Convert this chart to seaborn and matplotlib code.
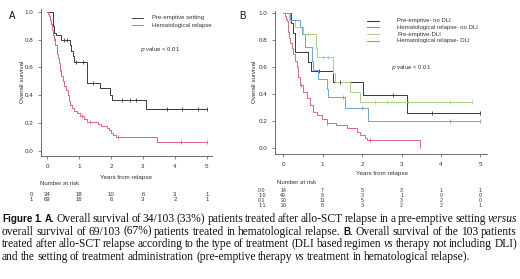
import numpy as np
import pandas as pd
import seaborn as sns
import matplotlib
matplotlib.use("Agg")
from matplotlib import pyplot as plt
import matplotlib.transforms as mtrans

# === Data: panel A (Kaplan-Meier step points, censor marks) ===
a_pre_t = [0, 0.20, 0.23, 0.27, 0.45, 0.72, 0.76, 0.80, 0.84, 1.26, 1.66, 1.97, 2.02, 3.09]
a_pre_s = [1.0, 0.90, 0.85, 0.83, 0.80, 0.76, 0.72, 0.68, 0.64, 0.49, 0.45, 0.40, 0.365, 0.305]
a_pre_cens = [0.52, 0.62, 0.92, 1.12, 1.45, 2.33, 2.59, 2.78, 3.74, 4.21, 4.73, 4.99]
a_pre_end = 5.0

a_hem_t = [0, 0.04, 0.07, 0.09, 0.125, 0.16, 0.20, 0.23, 0.26, 0.30, 0.33, 0.36, 0.40, 0.45, 0.49,
           0.53, 0.58, 0.64, 0.68, 0.73, 0.78, 0.84, 0.93, 1.03, 1.14, 1.24, 1.60, 1.70, 1.86, 1.95,
           2.00, 2.07, 2.16, 3.43]
a_hem_s = [1.0, 0.985, 0.97, 0.94, 0.91, 0.87, 0.83, 0.80, 0.76, 0.70, 0.67, 0.63, 0.58, 0.54, 0.50,
           0.47, 0.44, 0.40, 0.36, 0.33, 0.31, 0.29, 0.27, 0.25, 0.23, 0.21, 0.195, 0.18, 0.165, 0.15,
           0.13, 0.115, 0.10, 0.063]
a_hem_cens = [0.25, 0.40, 1.10, 1.35, 2.23, 4.20, 5.0]
a_hem_end = 5.0

# === Data: panel B ===
b_pre_nodli_t = [0, 0.20, 0.25, 0.30, 0.62, 0.70, 1.27, 2.02, 3.13]
b_pre_nodli_s = [1.0, 0.929, 0.857, 0.714, 0.643, 0.571, 0.49, 0.395, 0.264]
b_pre_nodli_cens = [0.90, 1.44, 2.79, 3.77, 5.0]
b_pre_nodli_end = 5.0

b_hem_nodli_t = [0, 0.04, 0.07, 0.085, 0.11, 0.13, 0.15, 0.17, 0.21, 0.25, 0.30, 0.34, 0.38, 0.42,
                 0.51, 0.59, 0.68, 0.76, 0.85, 0.97, 1.10, 1.35, 1.61, 1.86, 1.95, 2.07, 2.12, 3.47]
b_hem_nodli_s = [1.0, 0.98, 0.96, 0.94, 0.90, 0.86, 0.82, 0.78, 0.74, 0.70, 0.65, 0.60, 0.53, 0.47,
                 0.42, 0.37, 0.32, 0.27, 0.25, 0.22, 0.185, 0.17, 0.15, 0.12, 0.10, 0.075, 0.061, 0.0]
b_hem_nodli_cens = [0.45, 1.12, 2.20]
b_hem_nodli_end = 3.47

b_pre_dli_t = [0, 0.15, 0.30, 0.50, 0.82, 0.84, 0.86, 1.27, 1.30, 1.69, 1.95]
b_pre_dli_s = [1.0, 0.95, 0.90, 0.85, 0.80, 0.74, 0.68, 0.56, 0.49, 0.42, 0.345]
b_pre_dli_cens = [0.63, 1.02, 1.14, 2.33, 2.62, 3.17, 4.23, 4.78]
b_pre_dli_end = 4.78

b_hem_dli_t = [0, 0.17, 0.42, 0.47, 0.55, 0.72, 0.76, 0.89, 1.10, 1.14, 1.57, 2.16]
b_hem_dli_s = [1.0, 0.95, 0.90, 0.85, 0.75, 0.65, 0.58, 0.51, 0.44, 0.38, 0.30, 0.205]
b_hem_dli_cens = [1.52, 1.99, 4.23, 5.0]
b_hem_dli_end = 5.0

# === Number at risk tables ===
risk_years = [0, 1, 2, 3, 4, 5]
a_risk_labels = ["0", "1"]
a_risk = [[34, 18, 10, 6, 3, 1], [69, 16, 6, 3, 2, 1]]
b_risk_labels = ["0:0", "1:0", "0:1", "1:1"]
b_risk = [[14, 7, 5, 3, 1, 1], [49, 8, 3, 1, 0, 0], [20, 11, 5, 3, 2, 0], [20, 8, 3, 2, 2, 1]]

a_legend = ["Pre-emptive setting", "Hematological relapse"]
b_legend = ["Pre-emptive- no DLI", "Hematological relapse- no DLI", "Pre-emptive-DLI", "Hematological relapse- DLI"]

BLACK = "#3a3a3a"
RED = "#e0687e"
GREEN = "#a8d38a"
BLUE = "#6fa3d8"
TXT = "#333333"

sns.set_style("ticks")
plt.rcParams["font.family"] = ["Liberation Sans", "DejaVu Sans"]

W, H = 520, 279
fig = plt.figure(figsize=(W / 100, H / 100), dpi=100)


def fx(px):
    return px / W


def fy(py):
    return 1 - py / H


def surv_at(t, s, c):
    i = np.searchsorted(t, c, side="right") - 1
    return s[i]


def km(ax, t, s, cens, end, color):
    tt = list(t) + [end]
    ss = list(s) + [s[-1]]
    sns.lineplot(x=tt, y=ss, ax=ax, color=color, lw=0.7, drawstyle="steps-post",
                 estimator=None, sort=False)
    cy = [surv_at(np.array(t), np.array(s), c) for c in cens]
    ax.scatter(cens, cy, marker="|", s=9, color=color, linewidths=0.6, zorder=3)


def style_ax(ax, xlim, ylim):
    ax.set_xlim(*xlim)
    ax.set_ylim(*ylim)
    ax.set_xticks(risk_years)
    ax.set_yticks([0, 0.2, 0.4, 0.6, 0.8, 1.0])
    ax.set_yticklabels(["0.0", "0.2", "0.4", "0.6", "0.8", "1.0"])
    for side in ["top", "right"]:
        ax.spines[side].set_visible(False)
    for side in ["left", "bottom"]:
        ax.spines[side].set_linewidth(0.6)
        ax.spines[side].set_color("#555555")
    ax.tick_params(length=2.5, width=0.5, labelsize=4.5, pad=3, colors="#555555", labelcolor=TXT)
    ax.set_xlabel("")
    ax.set_ylabel("")


# === Panel A ===
axA = fig.add_axes([fx(41), fy(156), fx(171), 147 / H])
km(axA, a_pre_t, a_pre_s, a_pre_cens, a_pre_end, BLACK)
km(axA, a_hem_t, a_hem_s, a_hem_cens, a_hem_end, RED)
style_ax(axA, (-0.19, 5.16), (-0.036, 1.02))

# === Panel B ===
axB = fig.add_axes([fx(275), fy(154), fx(211.7), 143.4 / H])
km(axB, b_pre_nodli_t, b_pre_nodli_s, b_pre_nodli_cens, b_pre_nodli_end, BLACK)
km(axB, b_hem_nodli_t, b_hem_nodli_s, b_hem_nodli_cens, b_hem_nodli_end, RED)
km(axB, b_pre_dli_t, b_pre_dli_s, b_pre_dli_cens, b_pre_dli_end, GREEN)
km(axB, b_hem_dli_t, b_hem_dli_s, b_hem_dli_cens, b_hem_dli_end, BLUE)
style_ax(axB, (-0.21, 5.16), (-0.042, 1.02))

# panel letters, axis labels
fig.text(fx(12), fy(16), "A", fontsize=7, color="#111", ha="center", va="center")
fig.text(fx(242), fy(16), "B", fontsize=7, color="#111", ha="center", va="center")
fig.text(fx(22), fy(82), "Overall survival", rotation=90, fontsize=4.5, color=TXT, ha="center", va="center")
fig.text(fx(254), fy(82), "Overall survival", rotation=90, fontsize=4.5, color=TXT, ha="center", va="center")
fig.text(fx(126), fy(177), "Years from relapse", fontsize=4.5, color=TXT, ha="center", va="center")
fig.text(fx(382), fy(173), "Years from relapse", fontsize=4.5, color=TXT, ha="center", va="center")

# legends
for i, (lab, col) in enumerate(zip(a_legend, [BLACK, RED])):
    y = fy(18 + 7 * i)
    fig.add_artist(plt.Line2D([fx(132), fx(143)], [y, y], color=col, lw=0.7))
    fig.text(fx(152), y, lab, fontsize=4.3, color=TXT, va="center")
fig.text(fx(160), fy(50), r"$\it{p}$ value < 0.01", fontsize=4.3, color=TXT, ha="center", va="center")

for i, (lab, col) in enumerate(zip(b_legend, [BLACK, RED, GREEN, BLUE])):
    y = fy(20.7 + 6.7 * i)
    fig.add_artist(plt.Line2D([fx(367), fx(379)], [y, y], color=col, lw=0.8))
    fig.text(fx(397), y, lab, fontsize=4.3, color=TXT, va="center")
fig.text(fx(411), fy(68), r"$\it{p}$ value < 0.01", fontsize=4.3, color=TXT, ha="center", va="center")

# number at risk tables
fig.text(fx(40), fy(183.3), "Number at risk", fontsize=4.3, color=TXT, va="center")
trA = mtrans.blended_transform_factory(axA.transData, fig.transFigure)
for r, (lab, row) in enumerate(zip(a_risk_labels, a_risk)):
    y = fy(194 + 5.5 * r)
    fig.text(fx(31), y, lab, fontsize=4.3, color=TXT, ha="center", va="center")
    for yr, n in zip(risk_years, row):
        axA.text(yr, y, str(n), transform=trA, fontsize=4.3, color=TXT, ha="center", va="center")

fig.text(fx(276.7), fy(183), "Number at risk", fontsize=4.3, color=TXT, va="center")
trB = mtrans.blended_transform_factory(axB.transData, fig.transFigure)
for r, (lab, row) in enumerate(zip(b_risk_labels, b_risk)):
    y = fy(191 + 4.7 * r)
    fig.text(fx(262), y, lab, fontsize=3.8, color=TXT, ha="center", va="center")
    for yr, n in zip(risk_years, row):
        axB.text(yr, y, str(n), transform=trB, fontsize=3.8, color=TXT, ha="center", va="center")

# === Caption (justified lines) ===
serif = dict(family="Liberation Serif", fontsize=8.3, color="#111")
serif_it = dict(family="Liberation Serif", fontsize=8.3, style="italic", color="#111")
bold = dict(family="Liberation Sans", fontsize=7.1, weight="bold", color="#111")

caption = [
    [("Figure 1.", bold), ("A.", bold),
     ("Overall survival of 34/103 (33%) patients treated after allo-SCT relapse in a pre-emptive setting", serif),
     ("versus", serif_it)],
    [("overall survival of 69/103 (67%) patients treated in hematological relapse.", serif), ("B.", bold),
     ("Overall survival of the 103 patients", serif)],
    [("treated after allo-SCT relapse according to the type of treatment (DLI based regimen", serif),
     ("vs", serif_it), ("therapy not including DLI)", serif)],
    [("and the setting of treatment administration (pre-emptive therapy", serif), ("vs", serif_it),
     ("treatment in hematological relapse).", serif)],
]

renderer = fig.canvas.get_renderer()
x0, x1 = 2.0, 517.0
for li, runs in enumerate(caption):
    words = []
    for txt, kw in runs:
        for w in txt.split():
            words.append((w, kw))
    yb = fy(222 + 12.6 * li)
    objs = [fig.text(0, yb, w, va="baseline", **kw) for w, kw in words]
    widths = [o.get_window_extent(renderer).width for o in objs]
    if li < len(caption) - 1:
        gap = (x1 - x0 - sum(widths)) / (len(objs) - 1)
    else:
        gap = 2.4
    x = x0
    for o, wd in zip(objs, widths):
        o.set_x(fx(x))
        x += wd + gap

fig.savefig("out.png", dpi=100)
